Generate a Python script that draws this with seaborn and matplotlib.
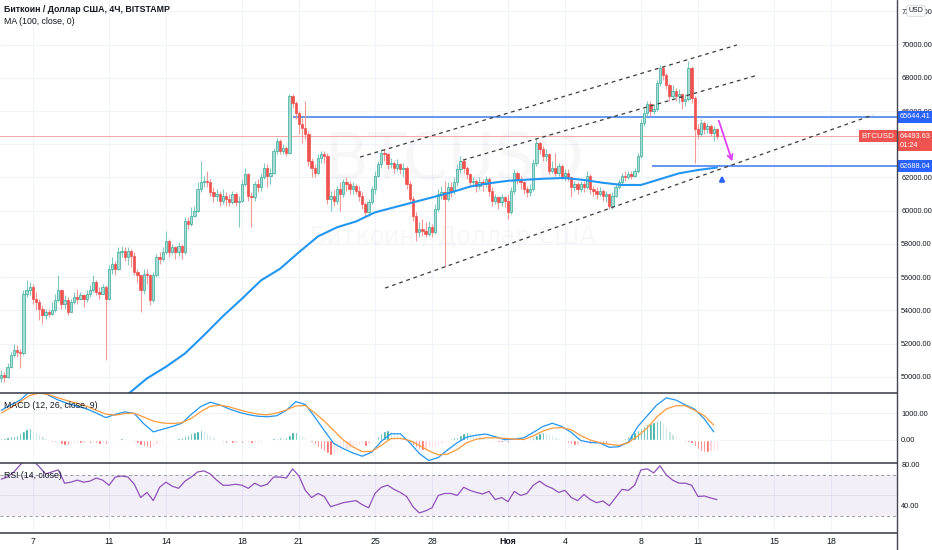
import numpy as np
import matplotlib
matplotlib.use('Agg')
import matplotlib.pyplot as plt
from matplotlib import font_manager
from matplotlib.lines import Line2D
import seaborn as sns

# BTCUSD 4Ч свечи, цены в тысячах USD (первая свеча 5 окт 08:00)
open_first = 49.9
closes = [
    50.1, 50.0, 50.6, 51.3,
    51.6, 51.5, 51.4, 55.0, 55.2, 55.4,
    54.7, 54.5, 54.1, 53.7, 53.9, 53.8,
    54.0, 54.6, 55.2, 54.4, 54.6, 53.9,
    54.5, 54.8, 54.7, 54.9, 54.7, 55.0,
    55.2, 55.7, 55.1, 55.0, 55.4, 54.7,
    56.5, 56.8, 56.5, 57.5, 57.6, 57.2,
    57.6, 57.3, 56.3, 56.1, 55.2, 56.2,
    56.1, 54.6, 56.1, 57.2, 57.1, 57.5,
    58.2, 57.5, 57.8, 57.5, 57.9, 57.5,
    59.4, 59.2, 59.7, 60.0, 61.3, 61.7,
    61.8, 61.7, 61.1, 60.9, 61.0, 60.6,
    60.9, 60.7, 60.5, 61.0, 60.5, 60.6,
    61.6, 62.2, 60.9, 60.8, 61.6, 61.4,
    62.0, 62.6, 62.1, 62.3, 63.6, 64.2,
    63.6, 63.8, 63.5, 66.9, 66.5, 65.9,
    65.2, 65.0, 64.6, 63.0, 62.6, 62.3,
    63.2, 63.4, 63.3, 60.7, 60.9, 60.6,
    61.3, 61.0, 61.7, 61.6, 61.3, 61.5,
    61.2, 60.9, 60.4, 59.9, 60.5, 61.3,
    62.1, 62.8, 63.5, 63.4, 62.8, 62.9,
    62.6, 62.8, 62.5, 62.6, 61.6, 60.7,
    59.7, 58.7, 58.9, 58.8, 58.6, 59.0,
    58.7, 60.1, 61.0, 61.1, 60.7, 61.4,
    61.2, 61.7, 62.5, 63.0, 62.6, 62.2,
    61.7, 61.8, 61.5, 61.7, 61.6, 61.9,
    61.2, 60.6, 60.8, 60.5, 60.8, 60.6,
    59.9, 61.2, 62.3, 61.9, 61.7, 61.3,
    61.1, 61.3, 62.9, 64.1, 63.7, 63.3,
    63.4, 62.4, 62.6, 62.3, 62.7, 62.1,
    62.3, 62.0, 61.4, 61.6, 61.3, 61.6,
    61.4, 62.1, 61.3, 61.2, 61.0, 61.2,
    60.9, 61.0, 60.3, 60.9, 61.4, 61.7,
    62.1, 62.0, 62.2, 62.1, 62.4, 63.3,
    65.3, 65.9, 66.4, 66.0, 66.1, 67.7,
    68.6, 68.2, 67.6, 66.9, 67.2, 66.9,
    67.0, 66.6, 66.7, 68.6, 66.8, 64.9,
    64.6, 65.3, 64.9, 65.1, 64.7, 64.9,
    64.49363,
]
highs = [
    50.4, 50.3, 50.8, 51.5,
    52.0, 51.9, 51.7, 55.2, 55.8, 55.7,
    55.6, 55.1, 54.7, 54.3, 54.1, 54.1,
    54.5, 55.0, 56.1, 55.3, 54.9, 54.8,
    54.7, 55.1, 55.3, 55.1, 55.0, 55.2,
    55.5, 56.1, 55.8, 55.4, 55.6, 55.5,
    56.7, 57.2, 57.0, 57.8, 57.9, 57.8,
    57.8, 57.7, 57.5, 56.5, 56.1, 56.5,
    56.5, 56.2, 56.3, 57.4, 57.5, 57.8,
    58.8, 58.3, 58.0, 57.9, 58.1, 58.0,
    59.6, 59.6, 60.2, 60.3, 61.7, 63.0,
    62.1, 62.4, 61.9, 61.4, 61.3, 61.2,
    61.3, 61.1, 61.0, 61.2, 61.1, 60.9,
    61.9, 62.6, 62.3, 61.1, 61.8, 61.9,
    62.3, 62.9, 62.8, 62.6, 63.8, 64.4,
    64.3, 64.0, 63.9, 67.0, 67.0, 66.6,
    66.0, 65.6, 66.6, 64.8, 63.2, 62.8,
    63.4, 63.6, 63.6, 63.5, 61.2, 61.3,
    61.5, 61.7, 61.9, 62.0, 61.8, 61.7,
    61.6, 61.5, 61.1, 60.5, 60.7, 61.5,
    62.4, 63.0, 63.7, 63.7, 63.5, 63.2,
    63.0, 63.1, 62.9, 62.9, 62.7, 61.8,
    60.9, 59.9, 59.3, 59.5, 59.3, 59.4,
    59.2, 60.4, 61.3, 61.5, 61.8, 61.7,
    61.7, 62.0, 62.8, 63.3, 63.1, 62.7,
    62.3, 62.0, 61.9, 62.0, 61.9, 62.1,
    62.0, 61.4, 61.0, 60.9, 61.0, 60.9,
    61.0, 61.4, 62.5, 62.4, 62.1, 61.8,
    61.5, 61.6, 63.1, 64.3, 64.2, 63.9,
    63.7, 63.5, 63.0, 63.5, 62.9, 62.8,
    62.5, 62.5, 62.1, 61.8, 61.7, 61.8,
    61.8, 62.4, 62.2, 61.5, 61.4, 61.4,
    61.3, 61.2, 61.0, 61.1, 61.6, 61.9,
    62.3, 62.4, 62.4, 62.4, 62.6, 63.5,
    65.5, 66.1, 66.6, 66.6, 66.4, 67.9,
    68.8, 68.7, 68.3, 67.7, 67.6, 67.4,
    67.3, 67.1, 67.0, 69.0, 68.7, 66.9,
    65.2, 65.5, 65.4, 65.3, 65.2, 65.1,
    65.0,
]
lows = [
    49.7, 49.7, 49.9, 50.5,
    51.2, 51.2, 50.5, 51.3, 54.8, 54.9,
    54.4, 54.0, 53.4, 53.2, 53.5, 53.6,
    53.7, 53.9, 54.5, 54.1, 54.1, 53.7,
    53.9, 54.4, 54.4, 54.6, 54.2, 54.5,
    54.8, 55.1, 54.9, 54.7, 55.0, 51.0,
    54.6, 56.2, 56.1, 56.4, 57.2, 57.0,
    56.7, 56.6, 56.1, 55.7, 53.9, 55.0,
    55.6, 54.3, 54.5, 56.0, 56.8, 57.0,
    57.4, 57.2, 57.4, 57.1, 57.3, 57.1,
    57.4, 58.9, 59.1, 59.6, 59.9, 61.1,
    61.4, 61.4, 60.9, 60.5, 60.6, 60.3,
    60.4, 60.3, 60.3, 60.4, 60.3, 59.0,
    60.5, 61.5, 60.6, 59.0, 60.6, 61.1,
    61.2, 61.9, 61.4, 61.6, 62.2, 63.4,
    63.4, 63.4, 63.3, 63.4, 66.2, 65.5,
    64.6, 64.1, 64.3, 62.7, 62.0, 62.0,
    62.2, 62.9, 62.9, 60.4, 60.0, 60.3,
    60.4, 60.0, 60.8, 61.2, 61.0, 61.0,
    61.0, 60.6, 60.1, 59.6, 59.7, 60.4,
    61.0, 62.0, 62.6, 63.0, 62.5, 62.6,
    62.3, 62.4, 62.2, 62.0, 61.3, 60.5,
    59.4, 58.2, 58.4, 58.5, 58.4, 58.5,
    58.4, 58.6, 59.9, 60.7, 56.6, 60.6,
    60.8, 61.0, 61.5, 62.3, 62.3, 61.9,
    61.4, 61.5, 61.1, 61.3, 61.2, 61.4,
    60.9, 60.3, 60.4, 60.1, 60.3, 60.2,
    59.5, 59.8, 61.0, 61.6, 61.3, 61.0,
    60.8, 60.9, 61.2, 62.7, 63.4, 63.0,
    63.0, 62.2, 62.3, 62.1, 62.1, 61.9,
    61.8, 61.8, 60.8, 61.2, 61.0, 61.1,
    61.1, 61.3, 61.0, 60.9, 60.7, 60.9,
    60.6, 60.5, 60.1, 60.1, 60.8, 61.3,
    61.6, 61.8, 61.9, 61.9, 62.0, 62.3,
    63.2, 65.1, 65.7, 65.7, 65.8, 66.0,
    67.5, 67.9, 67.3, 66.6, 66.8, 66.6,
    66.5, 66.1, 66.3, 66.6, 66.5, 62.9,
    64.3, 64.5, 64.6, 64.7, 64.5, 64.2,
    64.3,
]

# MA(100), по одной точке в сутки
ma_idx = np.arange(40, 227, 6)
ma_vals = [48.95, 49.9, 50.6, 51.4, 52.5, 53.65, 54.7, 55.8, 56.5, 57.5,
           58.45, 59.0, 59.35, 59.9, 60.2, 60.5, 60.8, 61.1, 61.45, 61.65,
           61.8, 61.87, 61.93, 61.97, 61.85, 61.68, 61.55, 61.55, 61.9, 62.25,
           62.45, 62.6]

# MACD (12, 26, close, 9)
macd_idx = np.arange(0, 226, 3)
macd_line = [1100, 1300, 1480, 1800, 1900, 1650, 1480, 1350, 1250, 1150,
             1000, 830, 950, 1040, 980, 600, 300, 400, 500, 620,
             950, 1240, 1400, 1300, 1150, 1030, 940, 880, 860, 900,
             1100, 1420, 1320, 850, 350, -130, -320, -480, -600, -450,
             -50, 230, 230, -100, -500, -760, -650, -360, -100, 110,
             180, 220, 120, 10, 30, 80, 280, 500, 620, 500,
             280, -20, -90, -110, -270, -250, -80, 500, 900, 1300,
             1560, 1480, 1300, 1140, 780, 300]
signal_line = [1000, 1200, 1420, 1650, 1740, 1680, 1560, 1450, 1360, 1250,
               1100, 960, 920, 980, 990, 850, 700, 630, 610, 640,
               800, 1050, 1250, 1290, 1230, 1120, 1030, 960, 930, 1000,
               1110, 1260, 1280, 1000, 700, 350, 0, -250, -430, -420,
               -200, 50, 60, -20, -200, -400, -550, -520, -350, -100,
               30, 80, 80, 60, 30, 20, 150, 330, 440, 460,
               380, 160, 0, -100, -160, -200, -100, 150, 450, 850,
               1150, 1270, 1270, 1100, 900, 550]
macd_hist = [60, 70, 100, 140, 160, 190, 260, 330, 400, 440,
             380, 300, 220, 150, 80, -30, -60, -90, -80, -130,
             -170, -190, -150, -130, -110, -120, -100, -90, -120, -100,
             -110, -130, -90, -140, -60, -20, 20, 50, 70, 60,
             30, 10, -60, -110, -180, -220, -260, -300, -220, -160,
             -80, -20, 30, 40, 30, 50, 60, 100, 160, 200,
             260, 300, 340, 370, 330, 260, 180, 110, 50, -20,
             -80, -110, -90, -120, -100, -80, -110, -60, -90, -120,
             -80, -60, -70, -40, -20, 20, 60, 90, 110, 100,
             120, 200, 280, 300, 240, 170, 100, 30, -80, -160,
             -250, -330, -400, -470, -540, -520, -480, -430, -380, -330,
             -290, -250, -220, -190, -160, -220, -130, -60, 40, 140,
             250, 330, 370, 340, 280, 230, 160, 100, 40, -80,
             -170, -260, -330, -370, -340, -300, -280, -230, -170, -100,
             -60, 40, 80, 100, 110, 180, 250, 300, 280, 240,
             200, 160, 120, 80, 40, 10, -40, -80, -90, -60,
             -100, -30, 20, 40, 30, -20, -40, 60, 120, 200,
             260, 300, 280, 230, 180, 120, 70, 20, -60, -110,
             -160, -190, -170, -130, -110, -100, -150, -120, -100, -90,
             -110, -130, -120, -90, -70, -40, 40, 90, 150, 220,
             290, 380, 450, 520, 580, 630, 680, 720, 740, 620,
             480, 350, 230, 140, 60, -30, -60, -80, -120, -230,
             -330, -400, -440, -450, -420, -390, -370]

# RSI (14, close), каждая вторая свеча
rsi_idx = np.arange(0, 227, 2)
rsi_vals = [66, 68, 73, 80, 85, 84, 78, 71, 73, 75,
            62, 63, 65, 63, 64, 67, 65, 60, 68, 69,
            68, 61, 48, 53, 45, 58, 63, 59, 57, 64,
            68, 73, 74, 71, 65, 60, 60, 61, 60, 57,
            62, 59, 61, 68, 68, 67, 76, 69, 55, 48,
            52, 49, 39, 41, 43, 44, 45, 41, 38, 52,
            58, 60, 56, 53, 49, 39, 33, 35, 38, 50,
            52, 52, 50, 58, 55, 53, 51.5, 54, 46, 48,
            44, 54, 50, 52, 60, 64, 59.5, 57, 53, 55,
            48, 45, 51, 46, 43, 44.6, 40, 48, 56, 55,
            60, 75, 76, 72, 79, 70, 65, 62, 62, 60,
            49, 49.5, 47.6, 46]

# разметка
price_ticks = np.arange(50, 73, 2)
tick_idx = [10, 34, 52, 76, 94, 118, 136, 160, 178, 202, 220, 244, 262]
tick_lbl = ['7', '11', '14', '18', '21', '25', '28', 'Ноя', '4', '8', '11', '15', '18']
level_hi, level_hi_from = 65.64441, 92.1
level_lo, level_lo_from = 62.68804, 205.5
last_price = closes[-1]
chan_a = ([113.3, 232.3], [63.23, 69.98])
chan_b = ([145.8, 238.9], [63.05, 68.17])
chan_c = ([121.2, 275.3], [55.34, 65.77])

sns.set_style('white')
plt.rcParams['font.family'] = ['Liberation Sans', 'DejaVu Sans']

txt = '#131722'
grid_c = '#f0f3fa'
lab_fs = 5.3
W, H = 932, 550
fig = plt.figure(figsize=(W / 100, H / 100), dpi=100)


def pane(top, bottom):
    return fig.add_axes([0, 1 - bottom / H, 897 / W, (bottom - top) / H])


ax = pane(0, 393)
ax_m = pane(393, 463)
ax_r = pane(463, 533)

xmax = 282.85
for a in (ax, ax_m, ax_r):
    a.set_facecolor('white')
    for t in tick_idx:
        a.axvline(t, color=grid_c, lw=0.8, zorder=0)
    for s in a.spines.values():
        s.set_visible(False)
    a.yaxis.tick_right()
    a.tick_params(axis='y', length=0, pad=3, labelsize=lab_fs, labelcolor=txt)
    a.tick_params(axis='x', length=0, labelsize=6.3, labelcolor=txt, pad=3)
    a.set_xticks(tick_idx)

# --- основной график
c = np.array(closes)
o = np.r_[open_first, c[:-1]]
h = np.maximum(np.array(highs), np.maximum(o, c))
l = np.minimum(np.array(lows), np.minimum(o, c))
up = c >= o
idx = np.arange(len(c))

for p in price_ticks:
    ax.axhline(p, color=grid_c, lw=0.8, zorder=0)

ax.text(0.507, 0.59, 'BTCUSD', transform=ax.transAxes, ha='center', va='center',
        fontsize=46, color=txt, alpha=0.03, zorder=1, family='DejaVu Sans')
ax.text(0.505, 0.397, 'Биткоин / Доллар США', transform=ax.transAxes, ha='center',
        va='center', fontsize=17, color=txt, alpha=0.03, zorder=1, family='DejaVu Sans')

ax.axhline(last_price, color='#f5a6a4', lw=0.7, zorder=1)
ax.hlines(level_hi, level_hi_from, xmax, color='#5b8def', lw=1.3, zorder=2)
ax.hlines(level_lo, level_lo_from, xmax, color='#5b8def', lw=1.3, zorder=2)

ax.vlines(idx, l, h, colors=np.where(up, '#7fcbc1', '#f29a98'), lw=0.8, zorder=3)
ax.bar(idx, np.maximum(np.abs(c - o), 0.04), bottom=np.minimum(o, c), width=0.72,
       color=np.where(up, '#a6ddd5', '#ef5350'), edgecolor=np.where(up, '#3aa99c', '#ef5350'),
       linewidth=0.5, zorder=4)

sns.lineplot(x=ma_idx, y=ma_vals, ax=ax, color='#2196f3', lw=1.5, zorder=5)

for xs, ys in (chan_a, chan_b, chan_c):
    ax.plot(xs, ys, color='#3b3b3b', lw=0.9, ls=(0, (3, 3)), zorder=5)

ax.annotate('', xy=(231.1, 62.81), xytext=(226.3, 65.58),
            arrowprops=dict(arrowstyle='->', color='#e040fb', lw=1.3, mutation_scale=9), zorder=6)
ax.annotate('', xy=(227.6, 62.3), xytext=(227.6, 61.65),
            arrowprops=dict(arrowstyle='-|>', color='#2962ff', lw=1.6, mutation_scale=7), zorder=6)

ax.set_xlim(-0.41, xmax)
ax.set_ylim(49.02, 72.69)
ax.set_yticks(price_ticks)
ax.set_yticklabels([f'{p * 1000:.2f}' for p in price_ticks])
ax.tick_params(axis='x', labelbottom=False)
ax.set_xlabel('')
ax.set_ylabel('')

tf = ax.get_yaxis_transform()
tag = dict(ha='left', va='center', color='white', fontsize=lab_fs, transform=tf,
           clip_on=False, zorder=10)
ax.text(1.003, level_hi, f'{level_hi * 1000:.2f}',
        bbox=dict(boxstyle='square,pad=0.3', fc='#2962ff', ec='none'), **tag)
ax.text(1.003, level_lo, f'{level_lo * 1000:.2f}',
        bbox=dict(boxstyle='square,pad=0.3', fc='#2962ff', ec='none'), **tag)
ax.text(1.003, last_price - 0.3, f'{last_price * 1000:.2f}\n01:24', linespacing=1.4,
        bbox=dict(boxstyle='square,pad=0.3', fc='#ef5350', ec='none'), **tag)
ax.text(0.997, last_price, 'BTCUSD', ha='right', va='center', color='white', fontsize=5.8,
        transform=tf, zorder=10,
        bbox=dict(boxstyle='square,pad=0.3', fc='#ef5350', ec='none'))

# --- MACD
prev = np.r_[macd_hist[0], macd_hist[:-1]]
hist = np.array(macd_hist)
hist_col = np.where(hist >= 0, np.where(hist >= prev, '#26a69a', '#b2dfdb'),
                    np.where(hist < prev, '#ff5252', '#ffcdd2'))
for v in (0, 1000):
    ax_m.axhline(v, color=grid_c, lw=0.8, zorder=0)
ax_m.bar(np.arange(len(hist)), hist, width=0.75, color=hist_col, zorder=2)
sns.lineplot(x=macd_idx, y=macd_line, ax=ax_m, color='#2196f3', lw=0.9, zorder=3)
sns.lineplot(x=macd_idx, y=signal_line, ax=ax_m, color='#ff9a3c', lw=0.9, zorder=3)
ax_m.set_xlim(-0.41, xmax)
ax_m.set_ylim(-852, 1741)
ax_m.set_yticks([0, 1000])
ax_m.set_yticklabels(['0.00', '1000.00'])
ax_m.tick_params(axis='x', labelbottom=False)
ax_m.set_xlabel('')
ax_m.set_ylabel('')

# --- RSI
ax_r.axhspan(30, 70, color='#7e57c2', alpha=0.09, lw=0, zorder=0)
for v in (70, 30):
    ax_r.axhline(v, color='#9598a1', lw=0.7, ls=(0, (3, 3)), zorder=1)
ax_r.axhline(50, color='#9598a1', lw=0.5, alpha=0.25, zorder=1)
sns.lineplot(x=rsi_idx, y=rsi_vals, ax=ax_r, color='#8e52b8', lw=0.9, zorder=3)
ax_r.set_xlim(-0.41, xmax)
ax_r.set_ylim(13.4, 81.7)
ax_r.set_yticks([40, 80])
ax_r.set_yticklabels(['40.00', '80.00'])
ax_r.set_xticklabels(tick_lbl)
for lab in ax_r.get_xticklabels():
    if lab.get_text() == 'Ноя':
        lab.set_fontweight('bold')
ax_r.set_xlabel('')
ax_r.set_ylabel('')

# рамки панелей
for y in (393, 463, 533):
    fig.add_artist(Line2D([0, 897 / W], [1 - y / H] * 2, color='#434651', lw=1.2))
fig.add_artist(Line2D([897 / W] * 2, [0, 1], color='#434651', lw=1.0))

fig.text(4 / W, 1 - 9 / H, 'Биткоин / Доллар США, 4Ч, BITSTAMP', fontsize=6.3,
         fontweight='bold', color=txt, va='center')
fig.text(4 / W, 1 - 22 / H, 'MA (100, close, 0)', fontsize=6.3, color=txt, va='center')
fig.text(4 / W, 1 - 405 / H, 'MACD (12, 26, close, 9)', fontsize=6.3, color=txt, va='center')
fig.text(4 / W, 1 - 476 / H, 'RSI (14, close)', fontsize=6.3, color=txt, va='center')
fig.text(916 / W, 1 - 11 / H, 'USD', ha='center', va='center', fontsize=5, color=txt,
         zorder=10, bbox=dict(boxstyle='round,pad=0.25', fc='white', ec='#d1d4dc', lw=0.6))

fig.savefig('out.png', dpi=100)
